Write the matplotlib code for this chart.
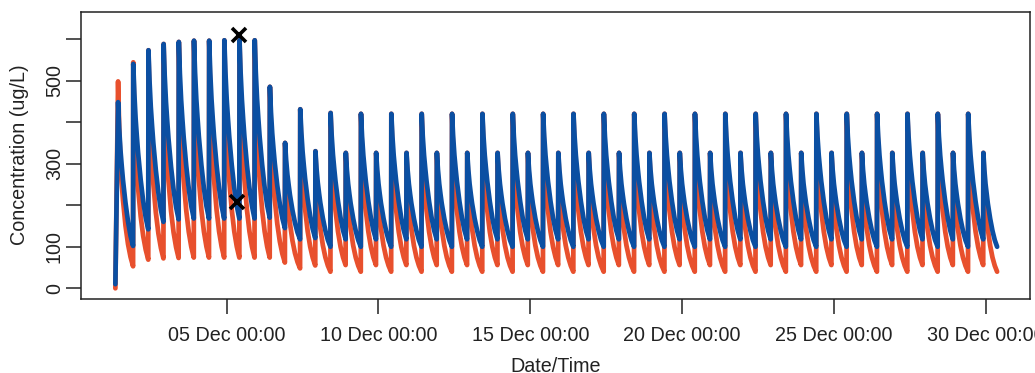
import numpy as np
import pandas as pd
import matplotlib
matplotlib.use("Agg")
import matplotlib.pyplot as plt
import matplotlib.dates as mdates

# ---------------- data ----------------
start_time = "2016-12-01 08:00"
first_dose = "2016-12-01 10:00"
n_doses = 58
dose_interval_h = 12
end_time = "2016-12-30 09:00"

blue_start = 10
red_start = 0

# peak concentration after each dose (ug/L)
blue_peak = [448, 540, 573, 588, 593, 596, 596, 597, 597, 597,
             485, 350, 431, 330, 422, 326, 420, 326, 420, 326,
             420, 326, 420, 326, 420, 326, 420, 326, 420, 326,
             420, 326, 420, 326, 420, 326, 420, 326, 420, 326,
             420, 326, 420, 326, 420, 326, 420, 326, 420, 326,
             420, 326, 420, 326, 420, 326, 420, 326]
red_peak = [498, 544, 573, 588, 593, 596, 596, 597, 597, 597,
            485, 350, 431, 330, 422, 326, 420, 326, 420, 326,
            420, 326, 420, 326, 420, 326, 420, 326, 420, 326,
            420, 326, 420, 326, 420, 326, 420, 326, 420, 326,
            420, 326, 420, 326, 420, 326, 420, 326, 420, 326,
            420, 326, 420, 326, 420, 326, 420, 326]
# trough at the end of each dosing interval (ug/L)
blue_trough = [102, 142, 160, 166, 168, 168, 168, 168, 168, 170,
               145, 118, 121, 100, 118, 100, 118, 100, 118, 100,
               118, 100, 118, 100, 118, 100, 118, 100, 118, 100,
               118, 100, 118, 100, 118, 100, 118, 100, 118, 100,
               118, 100, 118, 100, 118, 100, 118, 100, 118, 100,
               118, 100, 118, 100, 118, 100, 118, 100]
red_trough = [53, 69, 72, 73, 74, 74, 74, 74, 74, 74,
              62, 48, 55, 40, 56, 40, 56, 40, 56, 40,
              56, 40, 56, 40, 56, 40, 56, 40, 56, 40,
              56, 40, 56, 40, 56, 40, 56, 40, 56, 40,
              56, 40, 56, 40, 56, 40, 56, 40, 56, 40,
              56, 40, 56, 40, 56, 40, 56, 40]

# decay profile within a 12 h interval (fraction of peak-trough remaining)
shape_hours = [0, 1, 2, 3, 4, 6, 8, 10, 12]
blue_shape = [1.0, 0.82, 0.67, 0.56, 0.46, 0.30, 0.17, 0.07, 0.0]
red_shape = [1.0, 0.75, 0.57, 0.45, 0.36, 0.22, 0.12, 0.05, 0.0]

# observed samples
obs_time = ["2016-12-05 08:00", "2016-12-05 10:00"]
obs_conc = [208, 609]

x_ticks = ["2016-12-05", "2016-12-10", "2016-12-15",
           "2016-12-20", "2016-12-25", "2016-12-30"]
y_ticks = [0, 100, 200, 300, 400, 500, 600]
y_tick_labels = ["0", "100", "", "300", "", "500", ""]

# ---------------- build curves ----------------
dose_times = pd.date_range(first_dose, periods=n_doses, freq=f"{dose_interval_h}h")
ends = list(dose_times[1:]) + [pd.Timestamp(end_time)]


def build(start_val, peaks, troughs, shape):
    t = [pd.Timestamp(start_time)]
    v = [start_val]
    for k in range(n_doses):
        t0 = dose_times[k]
        L = (ends[k] - t0) / pd.Timedelta(hours=1)
        for h, s in zip(shape_hours, shape):
            hh = h * L / 12.0 if h > 0 else 0.15
            t.append(t0 + pd.Timedelta(hours=hh))
            v.append(troughs[k] + (peaks[k] - troughs[k]) * s)
    return t, v


bt, bv = build(blue_start, blue_peak, blue_trough, blue_shape)
rt, rv = build(red_start, red_peak, red_trough, red_shape)

# ---------------- plot ----------------
plt.rcParams['font.family'] = ['Liberation Sans', 'DejaVu Sans']
ink = '#222222'
fs = 14.2
W, H = 1035, 373
fig = plt.figure(figsize=(W / 100, H / 100), dpi=100)
ax = fig.add_axes([81 / W, 1 - 298.5 / H, (1030 - 81) / W, (298.5 - 12) / H])

red = '#E8502D'
blue = '#0B4FA2'
ax.plot(rt, rv, color=red, lw=3.4, solid_capstyle='round', solid_joinstyle='round')
ax.plot(bt, bv, color=blue, lw=3.4, solid_capstyle='round', solid_joinstyle='round')
ax.plot(pd.to_datetime(obs_time), obs_conc, linestyle='none', marker='x',
        color='black', markersize=10, markeredgewidth=2.6)

ax.set_xlim(pd.Timestamp("2016-11-30 04:50"), pd.Timestamp("2016-12-31 11:00"))
ax.set_ylim(-24.5, 665)

ax.set_xticks(pd.to_datetime(x_ticks))
ax.xaxis.set_major_formatter(mdates.DateFormatter("%d %b %H:%M"))
ax.set_yticks(y_ticks)
ax.set_yticklabels(y_tick_labels)
for lab in ax.get_yticklabels():
    lab.set_rotation(90)
    lab.set_verticalalignment('center')

ax.tick_params(axis='both', direction='out', length=10.8, width=1.1,
               color=ink, labelcolor=ink, labelsize=fs)
ax.tick_params(axis='x', pad=9)
ax.tick_params(axis='y', pad=1.5)
for s in ax.spines.values():
    s.set_color(ink)
    s.set_linewidth(1.1)

fig.text(20 / W, 1 - 155 / H, "Concentration (ug/L)", rotation=90,
         ha='center', va='center', fontsize=fs, color=ink)
fig.text(555.5 / W, 1 - 372 / H, "Date/Time", ha='center', va='baseline',
         fontsize=fs, color=ink)

fig.savefig("out.png", dpi=100)
